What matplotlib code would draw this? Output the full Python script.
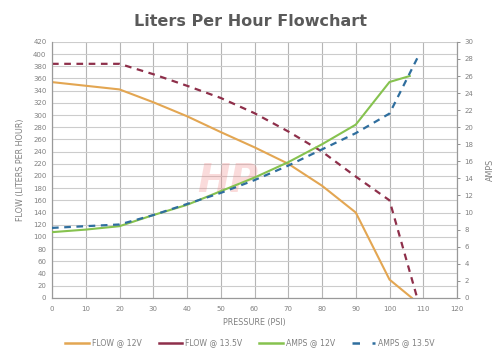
import matplotlib
matplotlib.use("Agg")
import matplotlib.pyplot as plt
from matplotlib.lines import Line2D

# pressure (PSI) and readings taken off the chart
flow12_psi = [0, 10, 20, 30, 40, 50, 60, 70, 80, 90, 100, 106.6]
flow12 = [354, 348, 342, 321, 298, 272, 247, 220, 184, 140, 30, 0]

flow135_psi = [0, 10, 20, 30, 40, 50, 60, 70, 80, 90, 100, 108.2]
flow135 = [384, 384, 384, 367, 348, 328, 303, 273, 240, 199, 160, 0]

amps12_psi = [0, 10, 20, 30, 40, 50, 60, 70, 80, 90, 100, 106]
amps12 = [7.7, 8.0, 8.4, 9.7, 10.9, 12.5, 14.1, 15.9, 18.0, 20.3, 25.3, 26.0]

amps135_psi = [0, 10, 20, 30, 40, 50, 60, 70, 80, 90, 100, 108.5]
amps135 = [8.2, 8.4, 8.6, 9.7, 11.0, 12.3, 13.8, 15.5, 17.4, 19.3, 21.6, 28.3]

labels = ["FLOW @ 12V", "FLOW @ 13.5V", "AMPS @ 12V", "AMPS @ 13.5V"]
colors = ["#E3A652", "#8E2F4A", "#86C24F", "#2F6E9E"]
txt = "#808080"

fig = plt.figure(figsize=(5, 3.58), dpi=100)
ax = fig.add_axes([0.104, 0.168, 0.81, 0.715])
ax2 = ax.twinx()

ax.plot(flow12_psi, flow12, color=colors[0], lw=1.5, zorder=3)
ax.plot(flow135_psi, flow135, color=colors[1], lw=1.6, ls=(0, (3, 2.5)), zorder=3)
ax2.plot(amps12_psi, amps12, color=colors[2], lw=1.5, zorder=3)
ax2.plot(amps135_psi, amps135, color=colors[3], lw=1.6, ls=(0, (3, 2.5)), zorder=4)

ax.set_xlim(0, 120)
ax.set_ylim(0, 420)
ax2.set_ylim(0, 30)
ax.set_xticks(range(0, 121, 10))
ax.set_yticks(range(0, 421, 20))
ax2.set_yticks(range(0, 31, 2))
ax.grid(True, axis="y", color="#cccccc", lw=0.8)
ax.grid(True, axis="x", color="#b5b5b5", lw=0.8)
ax.set_axisbelow(True)

for a in (ax, ax2):
    a.tick_params(labelsize=5.0, colors=txt, length=2.5, width=0.6)
    for s in a.spines.values():
        s.set_color("#999999")
        s.set_linewidth(0.8)
ax.tick_params(axis="x", length=0, pad=6)
ax.tick_params(axis="y", length=0, pad=4)
ax2.tick_params(axis="y", direction="out", pad=3)
ax.spines["top"].set_visible(False)
ax2.spines["top"].set_visible(False)

ax.set_xlabel("PRESSURE (PSI)", fontsize=5.8, color=txt, labelpad=4)
ax.set_ylabel("FLOW (LITERS PER HOUR)", fontsize=5.8, color=txt, labelpad=6)
ax2.set_ylabel("AMPS", fontsize=5.8, color=txt, labelpad=9)

fig.text(0.5, 0.94, "Liters Per Hour Flowchart", ha="center", va="center",
         fontsize=11.5, fontweight="bold", color="#5a5a5a")

# faint watermark logo
ax.text(52, 192, "HP", fontsize=28, fontweight="bold", style="italic",
        color="#f08080", alpha=0.28, ha="center", va="center", zorder=1)

handles = [
    Line2D([], [], color=colors[0], lw=1.8),
    Line2D([], [], color=colors[1], lw=1.8),
    Line2D([], [], color=colors[2], lw=1.8),
    Line2D([], [], color=colors[3], lw=1.8, ls=(0, (3, 5))),
]
fig.legend(handles, labels, loc="center", bbox_to_anchor=(0.5, 0.042), ncol=4,
           frameon=False, fontsize=5.6, labelcolor=txt, handlelength=3.0,
           handletextpad=0.4, columnspacing=2.2)

fig.savefig("out.png", dpi=100)
